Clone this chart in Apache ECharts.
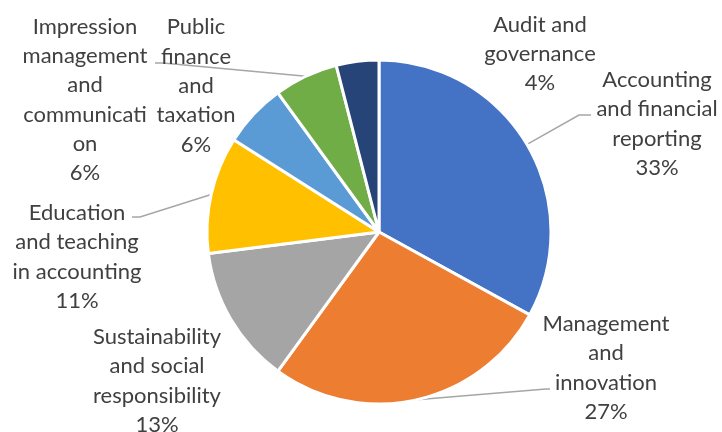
<!DOCTYPE html>
<html>
<head>
<meta charset="utf-8">
<script src="https://cdn.jsdelivr.net/npm/echarts@6/dist/echarts.min.js"></script>
<style>html,body{margin:0;padding:0;background:#fff}#c{width:722px;height:432px}</style>
</head>
<body>
<div id="c"></div>
<script>
const categories = [
  "Accounting\nand financial\nreporting",
  "Management\nand\ninnovation",
  "Sustainability\nand social\nresponsibility",
  "Education\nand teaching\nin accounting",
  "Impression\nmanagement\nand\ncommunicati\non",
  "Public\nfinance\nand\ntaxation",
  "Audit and\ngovernance"
];
const values = [33, 27, 13, 11, 6, 6, 4];
const colors = ["#4472C4", "#ED7D31", "#A5A5A5", "#FFC000", "#5B9BD5", "#70AD47", "#264478"];
// label centre positions (layout only)
const labelPos = [[657,124],[606,368],[157,381],[77,257],[85,100],[196,86],[540,54]];
// leader line bend / end points (layout only); null = no leader line
const leaderEnds = [
  [[579,115],[591,115]],
  [[546,389],[550,389]],
  null,
  [[140,217],[132,217]],
  null,
  [[163,63],[155,63]],
  null
];

const chart = echarts.init(document.getElementById('c'), null, {renderer: 'canvas'});
chart.setOption({
  animation: false,
  series: [{
    type: 'pie',
    center: [379, 232],
    radius: 172,
    startAngle: 90,
    clockwise: true,
    data: categories.map((n, i) => ({
      name: n, value: values[i],
      itemStyle: {color: colors[i]},
      labelLine: {show: !!leaderEnds[i]}
    })),
    itemStyle: {borderColor: '#fff', borderWidth: 3},
    label: {
      show: true,
      formatter: '{b}\n{d}%',
      fontFamily: 'Lato',
      fontSize: 22,
      lineHeight: 29.3,
      color: '#404040',
      align: 'center'
    },
    labelLine: {show: true, length: 10, length2: 10, smooth: false, lineStyle: {color: '#a6a6a6', width: 1.5}},
    labelLayout: function (p) {
      const i = p.dataIndex;
      const pos = labelPos[i];
      const out = {x: pos[0], y: pos[1], align: 'center', verticalAlign: 'middle', moveOverlap: null};
      if (leaderEnds[i] && p.labelLinePoints) {
        out.labelLinePoints = [p.labelLinePoints[0], leaderEnds[i][0], leaderEnds[i][1]];
      }
      return out;
    },
    emphasis: {disabled: true}
  }]
});
</script>
</body>
</html>
